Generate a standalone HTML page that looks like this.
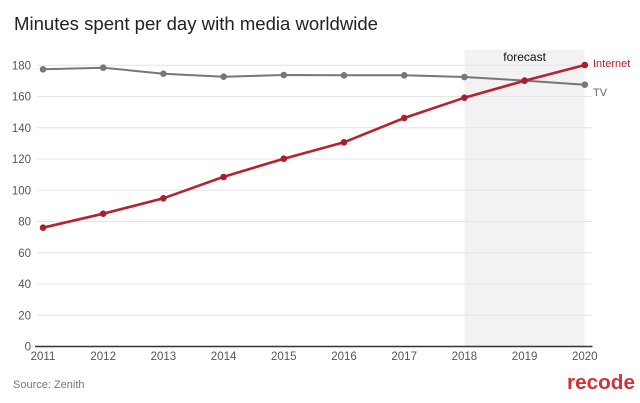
<!DOCTYPE html>
<html><head><meta charset="utf-8"><style>
html,body{margin:0;padding:0;background:#fff;}
svg{display:block;}
text{font-family:"Liberation Sans",Arial,sans-serif;}
</style></head><body>
<svg width="640" height="403" viewBox="0 0 640 403" xmlns="http://www.w3.org/2000/svg">
<rect width="640" height="403" fill="#fff"/>
<text x="14" y="30" font-size="18" fill="#222" textLength="364" lengthAdjust="spacingAndGlyphs">Minutes spent per day with media worldwide</text>
<!-- forecast band -->
<rect x="464.4" y="50" width="120.2" height="296" fill="#f2f2f4"/>
<!-- gridlines -->
<g stroke="#e4e4e4" stroke-width="1">
<line x1="37" x2="592" y1="65.3" y2="65.3"/>
<line x1="37" x2="592" y1="96.5" y2="96.5"/>
<line x1="37" x2="592" y1="127.8" y2="127.8"/>
<line x1="37" x2="592" y1="159" y2="159"/>
<line x1="37" x2="592" y1="190.3" y2="190.3"/>
<line x1="37" x2="592" y1="221.5" y2="221.5"/>
<line x1="37" x2="592" y1="252.8" y2="252.8"/>
<line x1="37" x2="592" y1="284" y2="284"/>
<line x1="37" x2="592" y1="315.3" y2="315.3"/>
</g>
<g font-size="11.5" fill="#555" text-anchor="end">
<text x="31" y="69.5">180</text>
<text x="31" y="100.7">160</text>
<text x="31" y="132">140</text>
<text x="31" y="163.2">120</text>
<text x="31" y="194.5">100</text>
<text x="31" y="225.7">80</text>
<text x="31" y="257">60</text>
<text x="31" y="288.2">40</text>
<text x="31" y="319.5">20</text>
<text x="31" y="350.5">0</text>
</g>
<line x1="35" x2="592.5" y1="346.5" y2="346.5" stroke="#333" stroke-width="1.6"/>
<g font-size="11.5" fill="#555" text-anchor="middle">
<text x="43" y="360">2011</text>
<text x="103.2" y="360">2012</text>
<text x="163.4" y="360">2013</text>
<text x="223.6" y="360">2014</text>
<text x="283.8" y="360">2015</text>
<text x="344" y="360">2016</text>
<text x="404.2" y="360">2017</text>
<text x="464.4" y="360">2018</text>
<text x="524.6" y="360">2019</text>
<text x="584.8" y="360">2020</text>
</g>
<text x="524.6" y="61" font-size="12" fill="#111" text-anchor="middle">forecast</text>
<!-- TV -->
<polyline fill="none" stroke="#777" stroke-width="2" points="43,69.3 103.2,67.7 163.4,73.7 223.6,76.7 283.8,75 344,75.3 404.2,75.3 464.4,77 524.6,80.6 584.8,84.7"/>
<g fill="#777">
<circle cx="43" cy="69.3" r="3.3"/><circle cx="103.2" cy="67.7" r="3.3"/><circle cx="163.4" cy="73.7" r="3.3"/><circle cx="223.6" cy="76.7" r="3.3"/><circle cx="283.8" cy="75" r="3.3"/><circle cx="344" cy="75.3" r="3.3"/><circle cx="404.2" cy="75.3" r="3.3"/><circle cx="464.4" cy="77" r="3.3"/><circle cx="524.6" cy="80.6" r="3.3"/><circle cx="584.8" cy="84.7" r="3.3"/>
</g>
<!-- Internet -->
<polyline fill="none" stroke="#b5232f" stroke-width="2.6" points="43,227.7 103.2,213.7 163.4,198.3 223,177 283.8,158.7 344,142.3 404.2,118 464.4,97.7 524.6,80.7 584.8,65"/>
<g fill="#a81e2a">
<circle cx="43" cy="227.7" r="3.3"/><circle cx="103.2" cy="213.7" r="3.3"/><circle cx="163.4" cy="198.3" r="3.3"/><circle cx="223.6" cy="177" r="3.3"/><circle cx="283.8" cy="158.7" r="3.3"/><circle cx="344" cy="142.3" r="3.3"/><circle cx="404.2" cy="118" r="3.3"/><circle cx="464.4" cy="97.7" r="3.3"/><circle cx="524.6" cy="80.7" r="3.3"/><circle cx="584.8" cy="65" r="3.3"/>
</g>
<text x="593" y="67" font-size="11" fill="#b5232f">Internet</text>
<text x="593" y="96" font-size="11" fill="#666">TV</text>
<text x="13" y="388" font-size="11" fill="#777">Source: Zenith</text>
<text x="567" y="389" font-size="20" font-weight="bold" fill="#d0343a" textLength="68" lengthAdjust="spacingAndGlyphs">recode</text>
</svg>
</body></html>
